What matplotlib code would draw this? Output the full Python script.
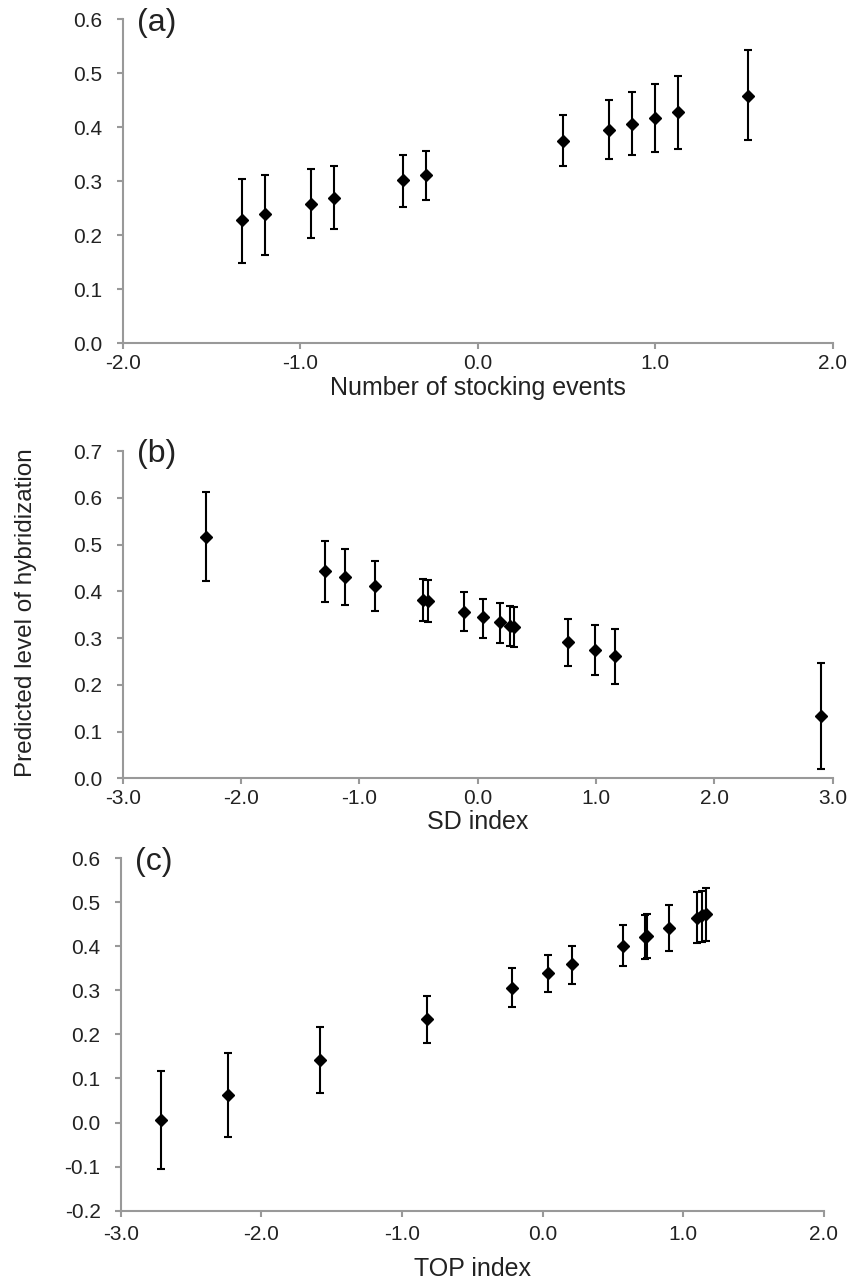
import matplotlib
matplotlib.use('Agg')
import matplotlib.pyplot as plt
from matplotlib.ticker import FormatStrFormatter, MultipleLocator

plt.rcParams['font.family'] = ['Liberation Sans', 'DejaVu Sans']

# Panel (a): number of stocking events
a_x = [-1.33, -1.20, -0.94, -0.81, -0.42, -0.29, 0.48, 0.74, 0.87, 1.00, 1.13, 1.52]
a_y = [0.228, 0.239, 0.259, 0.269, 0.302, 0.312, 0.375, 0.396, 0.407, 0.417, 0.428, 0.459]
a_lo = [0.148, 0.164, 0.195, 0.211, 0.253, 0.266, 0.328, 0.341, 0.348, 0.354, 0.360, 0.376]
a_hi = [0.305, 0.312, 0.323, 0.329, 0.349, 0.357, 0.423, 0.451, 0.465, 0.480, 0.495, 0.543]

# Panel (b): SD index
b_x = [-2.30, -1.29, -1.12, -0.87, -0.46, -0.42, -0.12, 0.045, 0.19, 0.27, 0.31, 0.76, 0.99, 1.16, 2.90]
b_y = [0.517, 0.443, 0.430, 0.412, 0.382, 0.379, 0.356, 0.344, 0.334, 0.326, 0.324, 0.291, 0.274, 0.261, 0.133]
b_lo = [0.421, 0.378, 0.371, 0.358, 0.336, 0.334, 0.314, 0.301, 0.290, 0.284, 0.281, 0.241, 0.220, 0.202, 0.019]
b_hi = [0.613, 0.507, 0.490, 0.465, 0.427, 0.425, 0.398, 0.384, 0.374, 0.368, 0.366, 0.340, 0.328, 0.319, 0.246]

# Panel (c): TOP index
c_x = [-2.71, -2.24, -1.58, -0.82, -0.22, 0.04, 0.21, 0.57, 0.73, 0.74, 0.90, 1.10, 1.13, 1.16]
c_y = [0.006, 0.062, 0.141, 0.235, 0.306, 0.339, 0.359, 0.401, 0.420, 0.423, 0.442, 0.465, 0.470, 0.474]
c_lo = [-0.105, -0.032, 0.068, 0.181, 0.263, 0.296, 0.315, 0.355, 0.372, 0.374, 0.389, 0.408, 0.410, 0.412]
c_hi = [0.117, 0.158, 0.216, 0.286, 0.350, 0.381, 0.400, 0.447, 0.471, 0.472, 0.493, 0.524, 0.526, 0.532]

panels = [
    dict(rect=[0.1442, 0.7322, 0.8343, 0.2526], x=a_x, y=a_y, lo=a_lo, hi=a_hi,
         xlim=(-2, 2), ylim=(0, 0.6), tag='(a)', xlabel='Number of stocking events',
         xpad=3, labelpad=2),
    dict(rect=[0.1442, 0.3929, 0.8343, 0.2553], x=b_x, y=b_y, lo=b_lo, hi=b_hi,
         xlim=(-3, 3), ylim=(0, 0.7), tag='(b)', xlabel='SD index',
         xpad=3, labelpad=2),
    dict(rect=[0.1418, 0.0556, 0.8264, 0.2751], x=c_x, y=c_y, lo=c_lo, hi=c_hi,
         xlim=(-3, 2), ylim=(-0.2, 0.6), tag='(c)', xlabel='TOP index',
         xpad=6, labelpad=9),
]

axis_grey = '#999999'
text_col = '#222222'

fig = plt.figure(figsize=(8.51, 12.82), dpi=100)

for p in panels:
    ax = fig.add_axes(p['rect'])
    yerr = [[v - l for v, l in zip(p['y'], p['lo'])],
            [h - v for v, h in zip(p['y'], p['hi'])]]
    ax.errorbar(p['x'], p['y'], yerr=yerr, fmt='D', color='black', ms=6.5,
                elinewidth=1.5, capsize=3, capthick=1.5, clip_on=False)
    ax.set_xlim(*p['xlim'])
    ax.set_ylim(*p['ylim'])
    ax.xaxis.set_major_locator(MultipleLocator(1.0))
    ax.yaxis.set_major_locator(MultipleLocator(0.1))
    ax.xaxis.set_major_formatter(FormatStrFormatter('%.1f'))
    ax.yaxis.set_major_formatter(FormatStrFormatter('%.1f'))
    for s in ['top', 'right']:
        ax.spines[s].set_visible(False)
    for s in ['left', 'bottom']:
        ax.spines[s].set_color(axis_grey)
        ax.spines[s].set_linewidth(1.5)
    ax.tick_params(direction='out', length=4.5, width=1.5, color=axis_grey,
                   labelsize=15, labelcolor=text_col)
    ax.tick_params(axis='y', pad=10)
    ax.tick_params(axis='x', pad=p['xpad'])
    ax.set_xlabel(p['xlabel'], fontsize=18, color=text_col, labelpad=p['labelpad'])
    ax.text(0.02, 0.99, p['tag'], transform=ax.transAxes, fontsize=23,
            color=text_col, va='center', ha='left')

fig.text(0.03, 0.522, 'Predicted level of hybridization', rotation=90,
         fontsize=17.5, color=text_col, ha='center', va='center')

fig.savefig('out.png', dpi=100)
